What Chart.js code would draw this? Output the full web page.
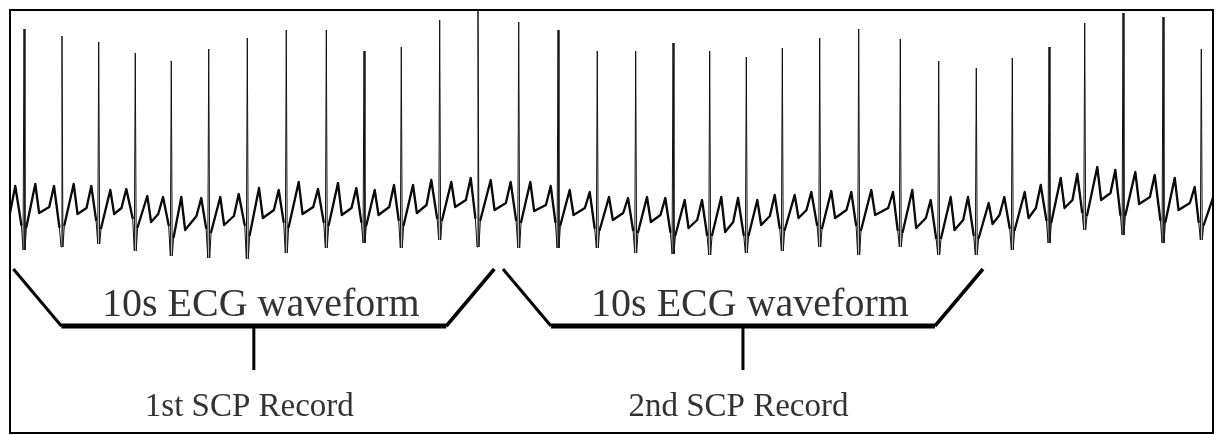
<!DOCTYPE html>
<html>
<head>
<meta charset="utf-8">
<script src="https://cdn.jsdelivr.net/npm/chart.js@4.4.1/dist/chart.umd.min.js"></script>
<style>
html,body{margin:0;padding:0;background:#fff;}
#wrap{width:1216px;height:435px;position:relative;}
</style>
</head>
<body>
<div id="wrap"><canvas id="c" width="1216" height="435"></canvas></div>
<script>
// ---- ECG data (time in s, amplitude in mV) ----
const beatTime = [0.292,1.083,1.848,2.610,3.360,4.140,4.944,5.756,6.590,7.375,8.152,8.952,9.750,10.598,11.417,12.235,13.035,13.813,14.577,15.340,16.090,16.869,17.681,18.548,19.348,20.131,20.881,21.646,22.390,23.188,24.021,24.819];
const rPeak = [1.81,1.74,1.68,1.57,1.49,1.61,1.72,1.80,1.80,1.59,1.63,1.90,1.99,1.88,1.80,1.59,1.59,1.67,1.59,1.53,1.62,1.72,1.81,1.71,1.49,1.42,1.52,1.63,1.87,1.97,1.93,1.61];
const qsDip = [-0.40,-0.37,-0.34,-0.41,-0.46,-0.48,-0.49,-0.43,-0.38,-0.33,-0.38,-0.30,-0.37,-0.38,-0.38,-0.38,-0.43,-0.44,-0.45,-0.43,-0.41,-0.37,-0.45,-0.37,-0.45,-0.45,-0.40,-0.33,-0.20,-0.25,-0.33,-0.30];
const qOnset = [-0.15,-0.17,-0.10,-0.08,-0.15,-0.18,-0.15,-0.12,-0.12,-0.12,-0.10,-0.08,-0.08,-0.10,-0.12,-0.18,-0.20,-0.22,-0.25,-0.25,-0.18,-0.15,-0.15,-0.20,-0.28,-0.25,-0.18,-0.10,-0.02,-0.05,-0.10,-0.12];
const sOffset = [-0.17,-0.15,-0.18,-0.17,-0.27,-0.22,-0.25,-0.17,-0.15,-0.15,-0.15,-0.10,-0.10,-0.12,-0.15,-0.20,-0.22,-0.25,-0.25,-0.25,-0.20,-0.18,-0.20,-0.22,-0.28,-0.28,-0.20,-0.12,-0.05,-0.05,-0.12,-0.15];
const pTime = [0.110,0.917,1.694,2.423,3.188,3.985,4.765,5.598,6.417,7.215,8.000,8.777,9.598,10.431,11.265,12.077,12.875,13.652,14.417,15.167,15.931,16.694,17.527,18.396,19.181,19.958,20.715,21.473,22.235,23.027,23.848,24.681];
const pWave = [0.24,0.24,0.24,0.21,0.13,0.12,0.16,0.20,0.21,0.22,0.25,0.30,0.32,0.28,0.24,0.18,0.12,0.12,0.10,0.12,0.15,0.18,0.18,0.18,0.10,0.13,0.13,0.25,0.36,0.40,0.35,0.23];
const tTime = [0.527,1.327,2.090,2.860,3.569,4.381,5.188,6.015,6.833,7.598,8.396,9.194,10.015,10.840,11.660,12.479,13.271,14.056,14.819,15.569,16.348,17.110,17.944,18.798,19.598,20.390,21.140,21.890,22.652,23.444,24.265,25.06];
const tWave = [0.26,0.26,0.20,0.14,0.13,0.13,0.22,0.28,0.27,0.20,0.25,0.28,0.30,0.28,0.20,0.13,0.13,0.10,0.13,0.10,0.15,0.19,0.20,0.20,0.13,0.07,0.18,0.32,0.43,0.38,0.32,0.12];
const trough = [-0.03,-0.04,-0.04,-0.12,-0.20,-0.15,-0.08,-0.04,-0.05,-0.05,-0.03,0.03,0.00,-0.01,-0.05,-0.10,-0.12,-0.18,-0.22,-0.15,-0.08,-0.08,-0.05,-0.18,-0.20,-0.14,-0.08,0.02,0.10,0.06,0.00,0.00];
const preP = [0.03,0.02,0.02,-0.04,-0.06,-0.06,0.00,0.03,0.02,0.03,0.05,0.10,0.07,0.05,0.02,-0.03,-0.05,-0.10,-0.12,-0.06,0.00,0.00,0.02,-0.08,-0.10,-0.05,0.02,0.10,0.17,0.13,0.07,0.05];
const traceStart = -0.03;

// ---- record annotation ----
const recordStart = [0.07, 10.27];
const recordEnd = [10.09, 20.27];
const recordTitle = ['10s ECG waveform', '10s ECG waveform'];
const recordLabel = ['1st SCP Record', '2nd SCP Record'];

// build the trace from the beat table: full trace (thin) + slow-wave overlay (heavier, broken at each QRS)
const ecg = [{x: 0, y: traceStart}];
const wave = [{x: 0, y: traceStart}];
for (let i = 0; i < beatTime.length; i++) {
  const r = beatTime[i];
  const slowA = [{x: pTime[i], y: pWave[i]}, {x: r - 0.055, y: qOnset[i]}];
  const qrs = [{x: r - 0.02, y: qsDip[i]}, {x: r, y: rPeak[i]}, {x: r + 0.02, y: qsDip[i]}];
  const slowB = [{x: r + 0.05, y: sOffset[i]}, {x: tTime[i], y: tWave[i]}, {x: tTime[i] + 0.08, y: trough[i]}];
  if (i + 1 < beatTime.length) slowB.push({x: pTime[i + 1] - 0.10, y: preP[i]});
  ecg.push(...slowA, ...qrs, ...slowB);
  wave.push(...slowA, {x: r, y: null}, ...slowB);
}

const bracketTop = -0.59, bracketBase = -1.16, bracketInset = 1.0, tickEnd = -1.60;
const titleLevel = -1.057, labelLevel = -2.057;

const datasets = [{
  data: ecg, borderColor: '#111', borderWidth: 1, pointRadius: 0, tension: 0
}, {
  data: wave, borderColor: '#000', borderWidth: 2.3, pointRadius: 0, tension: 0,
  spanGaps: false, borderJoinStyle: 'round', borderCapStyle: 'round'
}];
recordStart.forEach((s, i) => {
  const e = recordEnd[i], mid = (s + e) / 2;
  datasets.push({
    data: [{x: s, y: bracketTop}, {x: s + bracketInset, y: bracketBase}],
    borderColor: '#000', borderWidth: 3, pointRadius: 0
  });
  datasets.push({
    data: [{x: s + bracketInset, y: bracketBase}, {x: e - bracketInset, y: bracketBase}],
    borderColor: '#000', borderWidth: 5, pointRadius: 0
  });
  datasets.push({
    data: [{x: e - bracketInset, y: bracketBase}, {x: e, y: bracketTop}],
    borderColor: '#000', borderWidth: 3.5, pointRadius: 0
  });
  datasets.push({
    data: [{x: mid, y: bracketBase}, {x: mid, y: tickEnd}],
    borderColor: '#000', borderWidth: 3, pointRadius: 0
  });
});

const deco = {
  id: 'deco',
  afterDatasetsDraw(chart) {
    const {ctx, chartArea: a, scales: {x, y}} = chart;
    ctx.save();
    ctx.strokeStyle = '#000';
    ctx.lineWidth = 2;
    ctx.strokeRect(a.left, a.top, a.right - a.left, a.bottom - a.top);
    ctx.fillStyle = '#333';
    ctx.textAlign = 'center';
    ctx.textBaseline = 'alphabetic';
    recordStart.forEach((s, i) => {
      const cx = x.getPixelForValue((s + recordEnd[i]) / 2);
      ctx.font = '40px "Liberation Serif"';
      ctx.fillText(recordTitle[i], cx + 7, y.getPixelForValue(titleLevel));
      ctx.font = '33px "Liberation Serif"';
      ctx.fillText(recordLabel[i], cx - 4.5, y.getPixelForValue(labelLevel));
    });
    ctx.restore();
  }
};

new Chart(document.getElementById('c'), {
  type: 'line',
  data: { datasets },
  options: {
    responsive: false,
    animation: false,
    devicePixelRatio: 1,
    events: [],
    layout: { padding: { left: 10, top: 10, right: 3, bottom: 2 } },
    scales: {
      x: { type: 'linear', min: 0, max: 25.0625, display: false },
      y: { min: -2.23, max: 2.0, display: false }
    },
    plugins: { legend: { display: false }, tooltip: { enabled: false } }
  },
  plugins: [deco]
});
</script>
</body>
</html>
